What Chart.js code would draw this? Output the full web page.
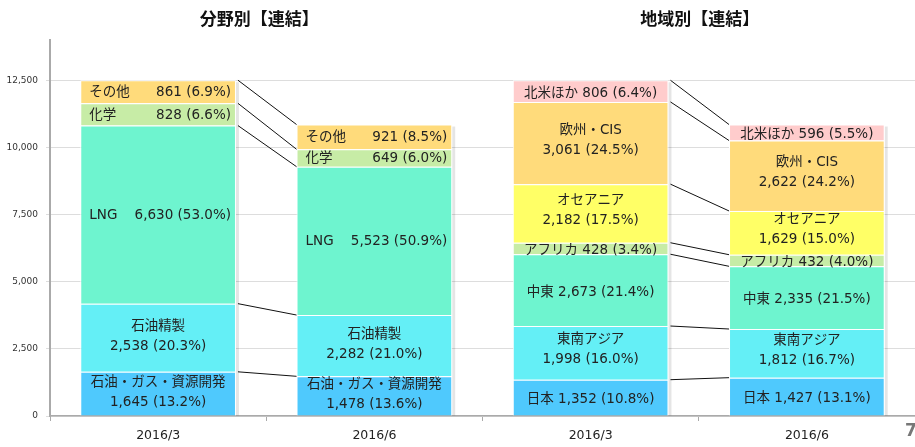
<!DOCTYPE html>
<html lang="ja">
<head>
<meta charset="UTF-8">
<title>分野別・地域別【連結】</title>
<script src="https://cdn.jsdelivr.net/npm/chart.js"></script>
<style>
    body { margin: 0; background: #fff; }
    #wrap { width: 915px; height: 447px; position: relative; }
</style>
</head>
<body>
<div id="wrap"><canvas id="chart"></canvas></div>
<script>
// categories (left pair = 分野別, right pair = 地域別)
const categories = ['2016/3', '2016/6', '2016/3', '2016/6'];
const titles = ['分野別【連結】', '地域別【連結】'];
const yTicks = [0, 2500, 5000, 7500, 10000, 12500];

// 分野別
const oilGas   = [1645, 1478, null, null];
const refining = [2538, 2282, null, null];
const lng      = [6630, 5523, null, null];
const chemical = [828, 649, null, null];
const others   = [861, 921, null, null];
// 地域別
const japan    = [null, null, 1352, 1427];
const seAsia   = [null, null, 1998, 1812];
const mideast  = [null, null, 2673, 2335];
const africa   = [null, null, 428, 432];
const oceania  = [null, null, 2182, 1629];
const europe   = [null, null, 3061, 2622];
const namerica = [null, null, 806, 596];

// shares (%)
const pctOilGas   = [13.2, 13.6, null, null];
const pctRefining = [20.3, 21.0, null, null];
const pctLng      = [53.0, 50.9, null, null];
const pctChemical = [6.6, 6.0, null, null];
const pctOthers   = [6.9, 8.5, null, null];
const pctJapan    = [null, null, 10.8, 13.1];
const pctSeAsia   = [null, null, 16.0, 16.7];
const pctMideast  = [null, null, 21.4, 21.5];
const pctAfrica   = [null, null, 3.4, 4.0];
const pctOceania  = [null, null, 17.5, 15.0];
const pctEurope   = [null, null, 24.5, 24.2];
const pctNamerica = [null, null, 6.4, 5.5];

// mode: 'two' = name over value, 'spread' = name left / value right, 'one' = centred line
const series = [
    { label: '石油・ガス・資源開発', data: oilGas, pct: pctOilGas, color: '#4fc9fd', mode: 'two' },
    { label: '石油精製', data: refining, pct: pctRefining, color: '#64eff6', mode: 'two' },
    { label: 'LNG', data: lng, pct: pctLng, color: '#6ef4cf', mode: 'spread' },
    { label: '化学', data: chemical, pct: pctChemical, color: '#c7eca6', mode: 'spread' },
    { label: 'その他', data: others, pct: pctOthers, color: '#ffdb7b', mode: 'spread' },
    { label: '日本', data: japan, pct: pctJapan, color: '#4fc9fd', mode: 'one' },
    { label: '東南アジア', data: seAsia, pct: pctSeAsia, color: '#64eff6', mode: 'two' },
    { label: '中東', data: mideast, pct: pctMideast, color: '#6ef4cf', mode: 'one' },
    { label: 'アフリカ', data: africa, pct: pctAfrica, color: '#c7eca6', mode: 'one' },
    { label: 'オセアニア', data: oceania, pct: pctOceania, color: '#ffff66', mode: 'two' },
    { label: '欧州・CIS', data: europe, pct: pctEurope, color: '#ffdb7b', mode: 'two' },
    { label: '北米ほか', data: namerica, pct: pctNamerica, color: '#ffcccc', mode: 'one' }
];

const JP = '"Noto Sans CJK JP", "Noto Sans", sans-serif';
const LBL = '"DejaVu Sans", "Noto Sans CJK JP", sans-serif';
const fmt = v => v.toLocaleString('en-US');

// soft shadow on the right of each bar
const shadowPlugin = {
    id: 'barShadow',
    beforeDatasetsDraw(chart) {
        const ctx = chart.ctx;
        ctx.save();
        ctx.fillStyle = 'rgba(0,0,0,0.10)';
        categories.forEach((c, i) => {
            let top = Infinity, base = 0, x = 0, w = 0;
            chart.data.datasets.forEach((ds, d) => {
                const el = chart.getDatasetMeta(d).data[i];
                if (ds.data[i] == null || !el) return;
                top = Math.min(top, el.y);
                base = Math.max(base, el.base);
                x = el.x; w = el.width;
            });
            if (top < Infinity) ctx.fillRect(x + w / 2, top + 2, 3, base - top - 2);
        });
        ctx.restore();
    }
};

// connectors, labels inside segments, titles
const decoPlugin = {
    id: 'deco',
    afterDatasetsDraw(chart) {
        const ctx = chart.ctx;
        ctx.save();
        // connector lines between the two bars of each group
        ctx.strokeStyle = '#111';
        ctx.lineWidth = 1;
        chart.data.datasets.forEach((ds, d) => {
            const meta = chart.getDatasetMeta(d);
            [[0, 1], [2, 3]].forEach(([a, b]) => {
                if (ds.data[a] == null) return;
                const e0 = meta.data[a], e1 = meta.data[b];
                ctx.beginPath();
                ctx.moveTo(e0.x + e0.width / 2 + 2, e0.y);
                ctx.lineTo(e1.x - e1.width / 2, e1.y);
                ctx.stroke();
            });
        });
        // segment labels
        ctx.fillStyle = '#222';
        ctx.textBaseline = 'middle';
        ctx.font = '13.5px ' + LBL;
        chart.data.datasets.forEach((ds, d) => {
            const s = series[d];
            const meta = chart.getDatasetMeta(d);
            ds.data.forEach((v, i) => {
                if (v == null) return;
                const el = meta.data[i];
                const cy = (el.y + el.base) / 2;
                const val = fmt(v) + ' (' + s.pct[i].toFixed(1) + '%)';
                if (s.mode === 'two') {
                    ctx.textAlign = 'center';
                    const off = i < 2 ? -1 : -3;
                    ctx.fillText(s.label, el.x, cy - 10 + off);
                    ctx.fillText(val, el.x, cy + 10 + off);
                } else if (s.mode === 'spread') {
                    ctx.textAlign = 'left';
                    ctx.fillText(s.label, el.x - el.width / 2 + 9, cy + 1);
                    ctx.textAlign = 'right';
                    ctx.fillText(val, el.x + el.width / 2 - 5, cy + 1);
                } else {
                    ctx.textAlign = 'center';
                    ctx.fillText(s.label + ' ' + val, el.x, cy + 2);
                }
            });
        });
        // titles
        const xs = chart.scales.x;
        ctx.textAlign = 'center';
        ctx.fillStyle = '#111';
        ctx.font = 'bold 17px ' + JP;
        ctx.fillText(titles[0], (xs.getPixelForValue(0) + xs.getPixelForValue(1)) / 2 - 7, 19);
        ctx.fillText(titles[1], (xs.getPixelForValue(2) + xs.getPixelForValue(3)) / 2 + 1, 19);
        // page number
        ctx.fillStyle = '#777';
        ctx.font = 'bold 17px "DejaVu Sans", sans-serif';
        ctx.textAlign = 'left';
        ctx.fillText('7', 905, 432);
        ctx.restore();
    }
};

new Chart(document.getElementById('chart'), {
    type: 'bar',
    data: {
        labels: categories,
        datasets: series.map(s => ({
            label: s.label,
            data: s.data,
            backgroundColor: s.color,
            borderColor: '#ffffff',
            borderWidth: 1,
            barPercentage: 0.72,
            categoryPercentage: 1,
            stack: 'all'
        }))
    },
    options: {
        responsive: true,
        maintainAspectRatio: false,
        animation: false,
        layout: { padding: { top: 40, left: 0, right: 0, bottom: 0 } },
        plugins: {
            legend: { display: false },
            tooltip: { enabled: false }
        },
        scales: {
            x: {
                stacked: true,
                grid: { display: true, drawOnChartArea: false, tickLength: 5, color: '#aaaaaa' },
                border: { color: '#aaaaaa', width: 1.5 },
                ticks: { color: '#222', font: { family: 'DejaVu Sans', size: 12.5 }, padding: 7 },
                afterFit(scale) { scale.height = 31; }
            },
            y: {
                stacked: true,
                min: 0,
                max: 14000,
                afterBuildTicks(scale) { scale.ticks = yTicks.map(v => ({ value: v })); },
                grid: { color: '#dddddd', tickLength: 4 },
                border: { color: '#aaaaaa', width: 2 },
                ticks: {
                    color: '#333',
                    font: { family: 'DejaVu Sans', size: 9 },
                    padding: 8,
                    callback: v => fmt(v)
                },
                afterFit(scale) { scale.width = 50; }
            }
        }
    },
    plugins: [shadowPlugin, decoPlugin]
});
</script>
</body>
</html>
